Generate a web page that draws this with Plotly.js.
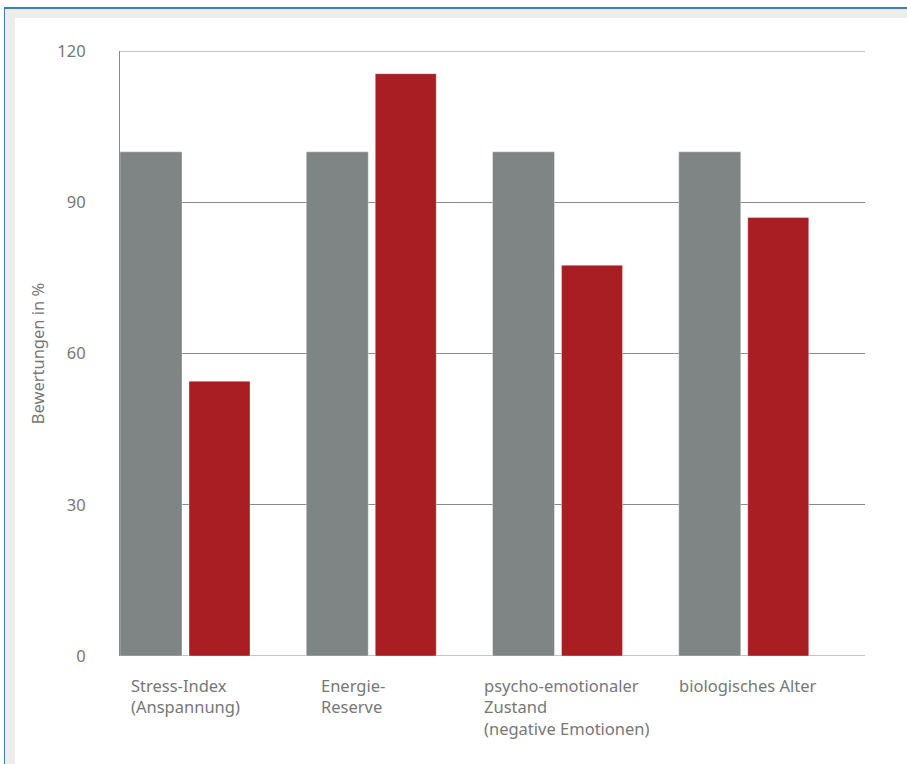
<!DOCTYPE html>
<html>
<head>
<meta charset="utf-8">
<script src="https://cdn.plot.ly/plotly-3.0.1.min.js"></script>
<style>
  html, body { margin: 0; padding: 0; background: #ffffff; }
  #frame { position: absolute; left: 4px; top: 7px; width: 903px; height: 757px;
           border-left: 1px solid #3c7fc0; border-top: 2px solid #3c7fc0;
           background: #ededed; box-sizing: border-box; }
  #inner { position: absolute; left: 15px; top: 18px; width: 892px; height: 746px; background: #ffffff; }
  #chart { position: absolute; left: 0; top: 0; width: 907px; height: 764px; }
</style>
</head>
<body>
<div id="frame"></div>
<div id="inner"></div>
<div id="chart"></div>
<script>
const categories = ["Stress-Index<br>(Anspannung)", "Energie-<br>Reserve", "psycho-emotionaler<br>Zustand<br>(negative Emotionen)", "biologisches Alter"];
const referenceValues = [100, 100, 100, 100];
const resultValues = [54.5, 115.5, 77.5, 87];
const yTicks = [0, 30, 60, 90, 120];
const yTitle = "Bewertungen in %";

const idx = categories.map((_, i) => i);
const labelOffsetPx = [9, 13, -11, -2];
const bandPx = 745 / 4;
const fontFam = '"Noto Sans", "Open Sans", sans-serif';
const textColor = '#777777';
const gridColor = '#8a8a8a';

const traces = [
  { type: 'bar', x: idx, y: referenceValues, offset: -0.5, width: 62 / bandPx,
    marker: { color: '#7f8584', line: { color: 'rgba(255,255,255,0.35)', width: 1 } }, hoverinfo: 'skip' },
  { type: 'bar', x: idx, y: resultValues, offset: -0.5 + 69 / bandPx, width: 61 / bandPx,
    marker: { color: '#a91e22', line: { color: 'rgba(255,255,255,0.35)', width: 1 } }, hoverinfo: 'skip' }
];

const annotations = categories.map((c, i) => ({
  text: c, x: i - 0.5 + labelOffsetPx[i] / bandPx, xref: 'x', y: 0, yref: 'paper',
  xanchor: 'left', yanchor: 'top', yshift: -16, align: 'left', showarrow: false,
  font: { family: fontFam, size: 16.5, color: textColor }
}));

const edgeLines = [yTicks[0], yTicks[yTicks.length - 1]].map(v => ({
  type: 'line', xref: 'paper', x0: 0, x1: 1, yref: 'y', y0: v, y1: v,
  line: { color: gridColor, width: 1 }, layer: 'below'
}));

const layout = {
  width: 907, height: 764,
  margin: { l: 120, r: 42, t: 51, b: 108 },
  paper_bgcolor: 'rgba(0,0,0,0)', plot_bgcolor: 'rgba(0,0,0,0)',
  showlegend: false, barmode: 'overlay',
  font: { family: fontFam, size: 16.5, color: textColor },
  xaxis: { range: [-0.5, 3.5], showticklabels: false, showgrid: false, zeroline: false,
           showline: false, ticks: '', tickvals: idx, fixedrange: true },
  yaxis: { range: [0, 120], tickvals: yTicks, ticktext: yTicks.map(String),
           showgrid: true, gridcolor: gridColor, gridwidth: 1, zeroline: false,
           showline: true, linecolor: gridColor, linewidth: 1, ticks: '',
           ticklabelstandoff: 30,
           tickfont: { family: fontFam, size: 16.5, color: textColor },
           title: { text: yTitle, standoff: 8, font: { family: fontFam, size: 16.5, color: textColor } } },
  shapes: edgeLines,
  annotations: annotations
};

Plotly.newPlot('chart', traces, layout, { displayModeBar: false, staticPlot: true });
</script>
</body>
</html>
